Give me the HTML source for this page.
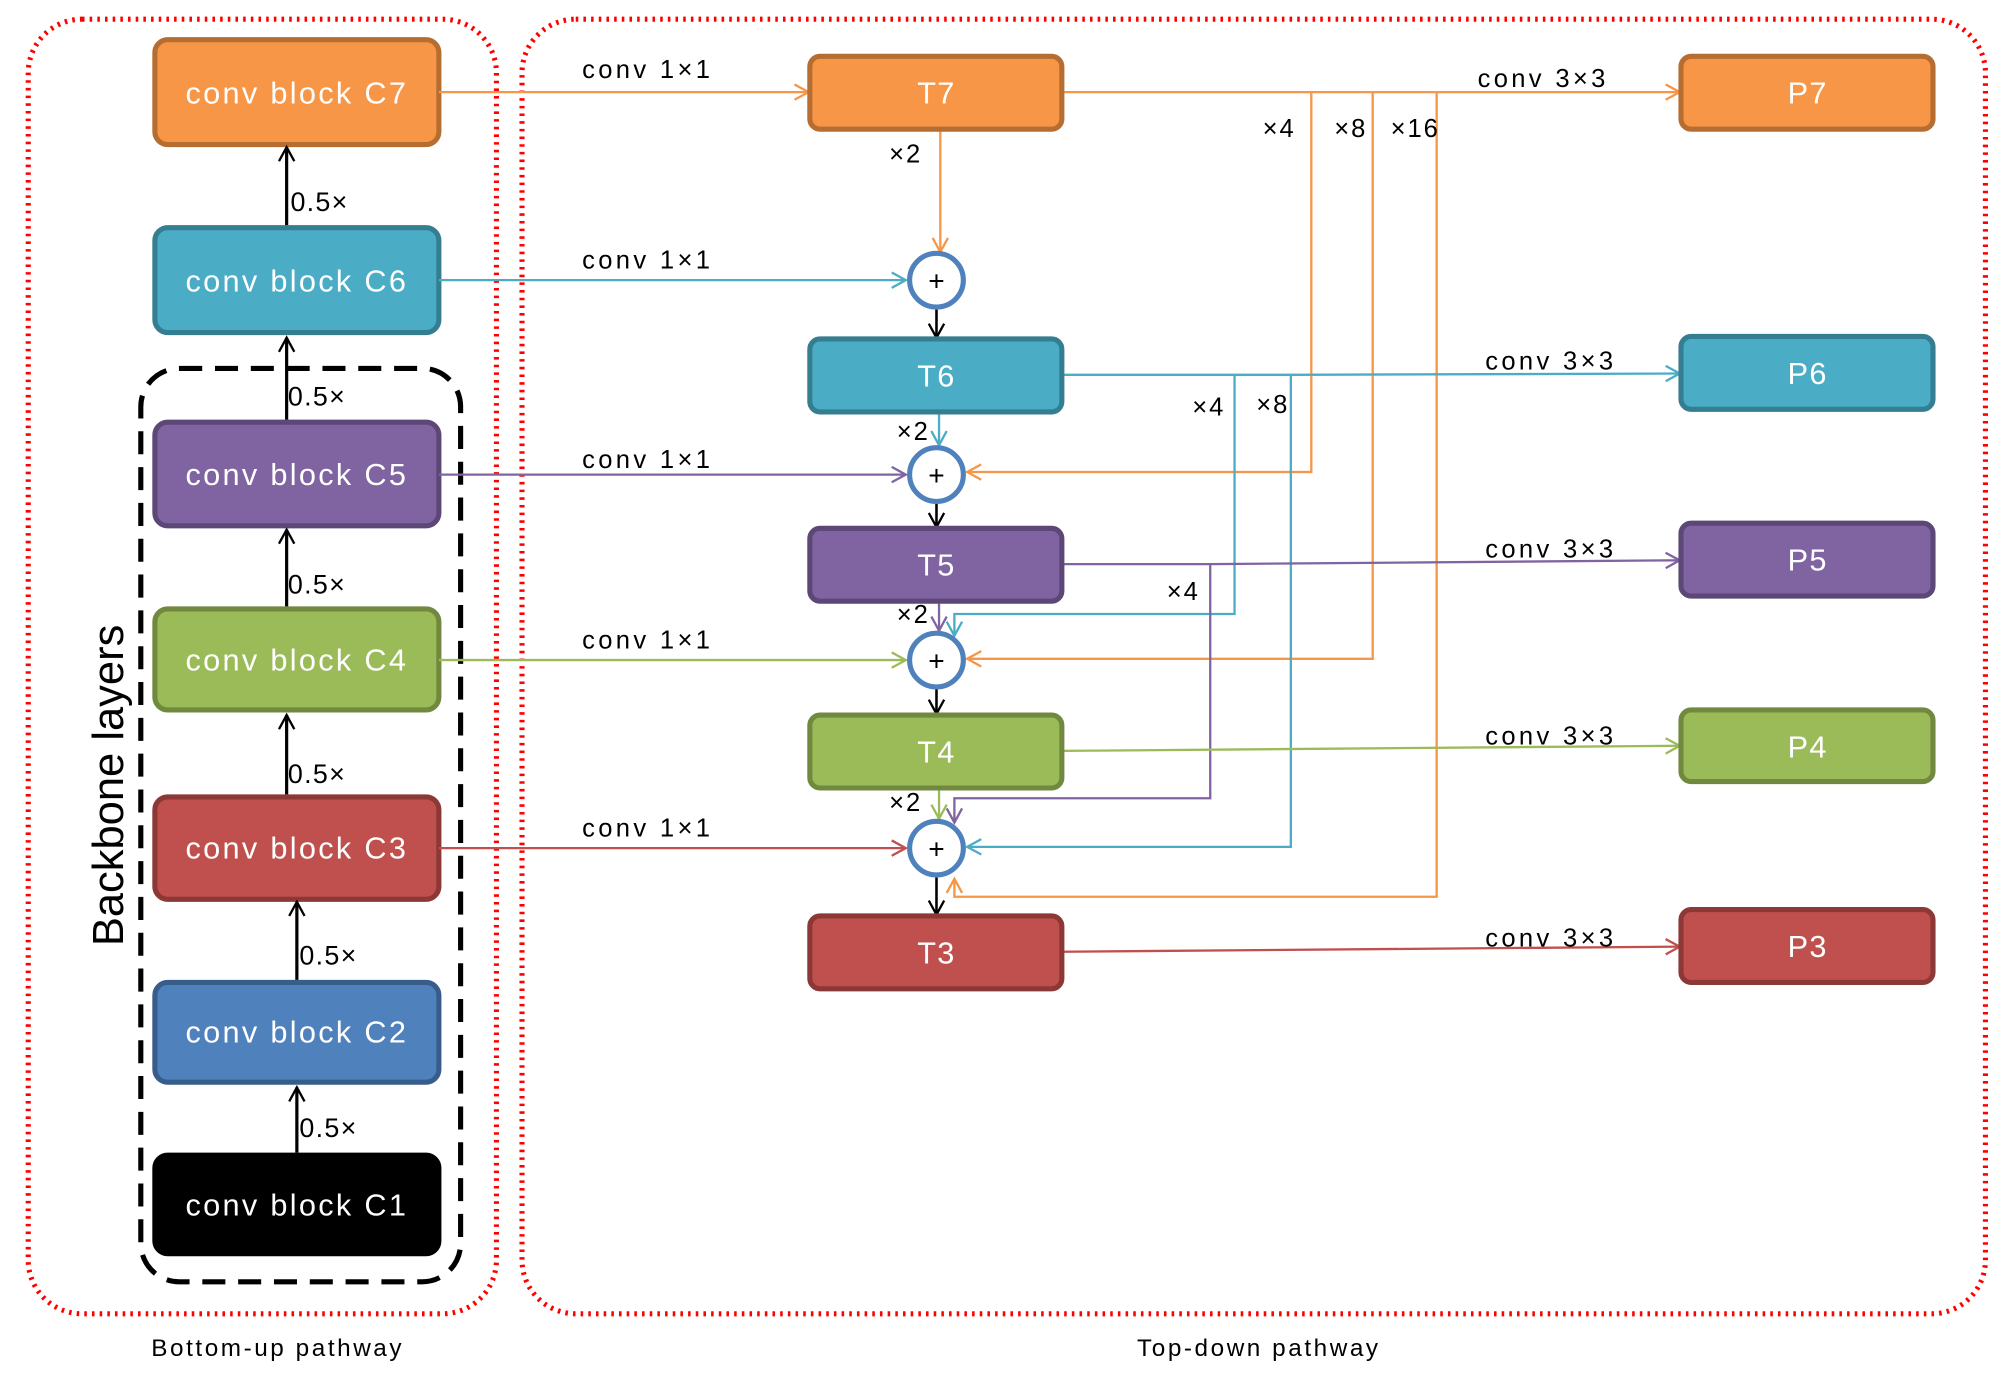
<!DOCTYPE html>
<html><head><meta charset="utf-8"><style>
html,body{margin:0;padding:0;background:#fff;}
svg{display:block;}
text{font-family:"Liberation Sans",Arial,sans-serif;}
</style></head><body>
<svg width="2006" height="1379" viewBox="0 0 1568 1078" xmlns="http://www.w3.org/2000/svg">
<defs>
<marker id="mk" markerWidth="14" markerHeight="14" refX="12" refY="7" orient="auto" markerUnits="userSpaceOnUse"><path d="M1,1 L12,7 L1,13" fill="none" stroke="#000" stroke-width="1.8"/></marker>
<marker id="mo" markerWidth="14" markerHeight="14" refX="12" refY="7" orient="auto" markerUnits="userSpaceOnUse"><path d="M1,1 L12,7 L1,13" fill="none" stroke="#F79646" stroke-width="1.8"/></marker>
<marker id="mb" markerWidth="14" markerHeight="14" refX="12" refY="7" orient="auto" markerUnits="userSpaceOnUse"><path d="M1,1 L12,7 L1,13" fill="none" stroke="#4BACC6" stroke-width="1.8"/></marker>
<marker id="mp" markerWidth="14" markerHeight="14" refX="12" refY="7" orient="auto" markerUnits="userSpaceOnUse"><path d="M1,1 L12,7 L1,13" fill="none" stroke="#8064A2" stroke-width="1.8"/></marker>
<marker id="mg" markerWidth="14" markerHeight="14" refX="12" refY="7" orient="auto" markerUnits="userSpaceOnUse"><path d="M1,1 L12,7 L1,13" fill="none" stroke="#9BBB59" stroke-width="1.8"/></marker>
<marker id="mr" markerWidth="14" markerHeight="14" refX="12" refY="7" orient="auto" markerUnits="userSpaceOnUse"><path d="M1,1 L12,7 L1,13" fill="none" stroke="#C0504D" stroke-width="1.8"/></marker>
</defs>

<rect x="22" y="15" width="366" height="1012" rx="42" fill="none" stroke="#f00" stroke-width="4" stroke-dasharray="2,4"/>
<rect x="408" y="15" width="1144" height="1012" rx="42" fill="none" stroke="#f00" stroke-width="4" stroke-dasharray="2,4"/>
<g font-size="19" text-anchor="middle" letter-spacing="2">
<text x="217" y="1060">Bottom-up pathway</text>
<text x="984" y="1060">Top-down pathway</text>
</g>

<rect x="110" y="288" width="250" height="714" rx="30" fill="none" stroke="#000" stroke-width="4" stroke-dasharray="18,10"/>
<text transform="translate(96,614) rotate(-90)" font-size="34" text-anchor="middle">Backbone layers</text>

<g font-size="24" fill="#fff" text-anchor="middle" letter-spacing="1.8">
<rect x="121" y="31" width="222" height="82" rx="10" fill="#F79646" stroke="#B66D31" stroke-width="4"/><text x="232" y="81" fill="#fff">conv block C7</text>
<rect x="121" y="178" width="222" height="82" rx="10" fill="#4BACC6" stroke="#357D91" stroke-width="4"/><text x="232" y="228" fill="#fff">conv block C6</text>
<rect x="121" y="330" width="222" height="81" rx="10" fill="#8064A2" stroke="#5C4776" stroke-width="4"/><text x="232" y="379" fill="#fff">conv block C5</text>
<rect x="121" y="476" width="222" height="79" rx="10" fill="#9BBB59" stroke="#71893F" stroke-width="4"/><text x="232" y="524" fill="#fff">conv block C4</text>
<rect x="121" y="623" width="222" height="80" rx="10" fill="#C0504D" stroke="#8C3836" stroke-width="4"/><text x="232" y="671" fill="#fff">conv block C3</text>
<rect x="121" y="768" width="222" height="78" rx="10" fill="#4F81BD" stroke="#385D8A" stroke-width="4"/><text x="232" y="815" fill="#fff">conv block C2</text>
<rect x="121" y="903" width="222" height="77" rx="10" fill="#000" stroke="#000" stroke-width="4"/><text x="232" y="950" fill="#fff">conv block C1</text>
</g>

<g stroke="#000" stroke-width="2.5" marker-end="url(#mk)">
<line x1="224" y1="176" x2="224" y2="115"/>
<line x1="224" y1="328" x2="224" y2="264"/>
<line x1="224" y1="474" x2="224" y2="414"/>
<line x1="224" y1="621" x2="224" y2="559"/>
<line x1="232" y1="766" x2="232" y2="705"/>
<line x1="232" y1="901" x2="232" y2="850"/>
</g>
<g font-size="21" letter-spacing="1">
<text x="227" y="165">0.5×</text>
<text x="225" y="317">0.5×</text>
<text x="225" y="464">0.5×</text>
<text x="225" y="612">0.5×</text>
<text x="234" y="754">0.5×</text>
<text x="234" y="889">0.5×</text>
</g>

<g stroke-width="1.8" fill="none">
<line x1="343" y1="72" x2="632" y2="72" stroke="#F79646" marker-end="url(#mo)"/>
<line x1="343" y1="219" x2="708" y2="219" stroke="#4BACC6" marker-end="url(#mb)"/>
<line x1="343" y1="371" x2="708" y2="371" stroke="#8064A2" marker-end="url(#mp)"/>
<line x1="343" y1="516" x2="708" y2="516" stroke="#9BBB59" marker-end="url(#mg)"/>
<line x1="343" y1="663" x2="708" y2="663" stroke="#C0504D" marker-end="url(#mr)"/>
</g>
<g font-size="20" letter-spacing="2.6">
<text x="455" y="61">conv 1×1</text>
<text x="455" y="210">conv 1×1</text>
<text x="455" y="366">conv 1×1</text>
<text x="455" y="507">conv 1×1</text>
<text x="455" y="654">conv 1×1</text>
</g>

<g stroke-width="1.8" fill="none">
<polyline points="830,72 1025,72 1025,369 756,369" stroke="#F79646" marker-end="url(#mo)"/>
<polyline points="1025,72 1073,72 1073,515 756,515" stroke="#F79646" marker-end="url(#mo)"/>
<polyline points="1073,72 1123,72 1123,701 746,701 746,687" stroke="#F79646" marker-end="url(#mo)"/>
<polyline points="830,293 965,293 965,480 746,480 746,497" stroke="#4BACC6" marker-end="url(#mb)"/>
<polyline points="965,293 1009,293 1009,662 756,662" stroke="#4BACC6" marker-end="url(#mb)"/>
<polyline points="830,441 946,441 946,624 746,624 746,643" stroke="#8064A2" marker-end="url(#mp)"/>
<line x1="1123" y1="72" x2="1313" y2="72" stroke="#F79646" marker-end="url(#mo)"/>
<line x1="1009" y1="293" x2="1313" y2="292" stroke="#4BACC6" marker-end="url(#mb)"/>
<line x1="946" y1="441" x2="1313" y2="438" stroke="#8064A2" marker-end="url(#mp)"/>
<line x1="830" y1="587" x2="1313" y2="583" stroke="#9BBB59" marker-end="url(#mg)"/>
<line x1="830" y1="744" x2="1313" y2="740" stroke="#C0504D" marker-end="url(#mr)"/>
<line x1="735" y1="101" x2="735" y2="197" stroke="#F79646" marker-end="url(#mo)"/>
<line x1="734" y1="322" x2="734" y2="348" stroke="#4BACC6" marker-end="url(#mb)"/>
<line x1="734" y1="470" x2="734" y2="493" stroke="#8064A2" marker-end="url(#mp)"/>
<line x1="734" y1="616" x2="734" y2="640" stroke="#9BBB59" marker-end="url(#mg)"/>
</g>
<g font-size="20" letter-spacing="2.6">
<text x="1155" y="68">conv 3×3</text>
<text x="1161" y="289">conv 3×3</text>
<text x="1161" y="436">conv 3×3</text>
<text x="1161" y="582">conv 3×3</text>
<text x="1161" y="740">conv 3×3</text>
</g>
<g font-size="20" letter-spacing="1.5">
<text x="695" y="127">×2</text>
<text x="701" y="344">×2</text>
<text x="701" y="487">×2</text>
<text x="695" y="634">×2</text>
<text x="987" y="107">×4</text>
<text x="1043" y="107">×8</text>
<text x="1087" y="107">×16</text>
<text x="932" y="325">×4</text>
<text x="982" y="323">×8</text>
<text x="912" y="469">×4</text>
</g>

<g stroke="#000" stroke-width="2" marker-end="url(#mk)">
<line x1="732" y1="242" x2="732" y2="264"/>
<line x1="732" y1="394" x2="732" y2="412"/>
<line x1="732" y1="539" x2="732" y2="558"/>
<line x1="732" y1="686" x2="732" y2="715"/>
</g>

<g fill="#fff" stroke="#4F81BD" stroke-width="4">
<circle cx="732" cy="219" r="21"/><circle cx="732" cy="371" r="21"/><circle cx="732" cy="516" r="21"/><circle cx="732" cy="663" r="21"/>
</g>
<g font-size="22" text-anchor="middle">
<text x="732" y="227">+</text><text x="732" y="379">+</text><text x="732" y="524">+</text><text x="732" y="671">+</text>
</g>

<g font-size="24" text-anchor="middle" letter-spacing="1">
<rect x="633" y="44" width="197" height="57" rx="8" fill="#F79646" stroke="#B66D31" stroke-width="4"/><text x="732" y="81" fill="#fff">T7</text>
<rect x="633" y="265" width="197" height="57" rx="8" fill="#4BACC6" stroke="#357D91" stroke-width="4"/><text x="732" y="302" fill="#fff">T6</text>
<rect x="633" y="413" width="197" height="57" rx="8" fill="#8064A2" stroke="#5C4776" stroke-width="4"/><text x="732" y="450" fill="#fff">T5</text>
<rect x="633" y="559" width="197" height="57" rx="8" fill="#9BBB59" stroke="#71893F" stroke-width="4"/><text x="732" y="596" fill="#fff">T4</text>
<rect x="633" y="716" width="197" height="57" rx="8" fill="#C0504D" stroke="#8C3836" stroke-width="4"/><text x="732" y="753" fill="#fff">T3</text>
<rect x="1314" y="44" width="197" height="57" rx="8" fill="#F79646" stroke="#B66D31" stroke-width="4"/><text x="1413" y="81" fill="#fff">P7</text>
<rect x="1314" y="263" width="197" height="57" rx="8" fill="#4BACC6" stroke="#357D91" stroke-width="4"/><text x="1413" y="300" fill="#fff">P6</text>
<rect x="1314" y="409" width="197" height="57" rx="8" fill="#8064A2" stroke="#5C4776" stroke-width="4"/><text x="1413" y="446" fill="#fff">P5</text>
<rect x="1314" y="555" width="197" height="56" rx="8" fill="#9BBB59" stroke="#71893F" stroke-width="4"/><text x="1413" y="592" fill="#fff">P4</text>
<rect x="1314" y="711" width="197" height="57" rx="8" fill="#C0504D" stroke="#8C3836" stroke-width="4"/><text x="1413" y="748" fill="#fff">P3</text>
</g>
</svg>
</body></html>
